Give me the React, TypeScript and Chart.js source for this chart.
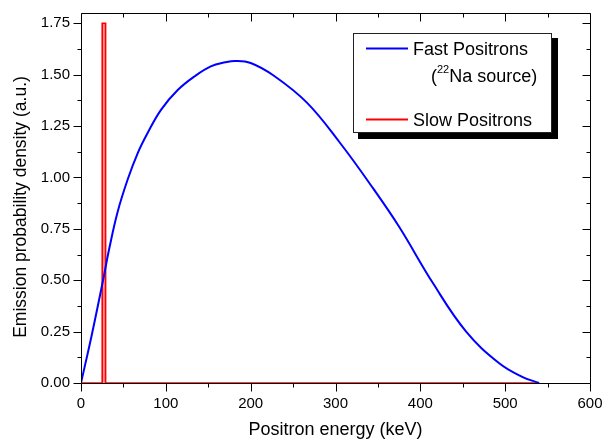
import React, { useEffect, useRef } from 'react';
import { Chart, registerables } from 'chart.js';

Chart.register(...registerables);

// ---- data ----
const fastEnergy = [0, 13, 26, 33, 43, 55, 67, 79, 94.5, 114, 134, 153, 170, 182, 200, 227, 266, 305, 345, 375, 415, 454, 493, 520, 540];
const fastDensity = [0, 0.24, 0.5, 0.648, 0.83, 0.99, 1.12, 1.22, 1.33, 1.425, 1.492, 1.54, 1.56, 1.567, 1.557, 1.496, 1.365, 1.17, 0.943, 0.76, 0.485, 0.25, 0.096, 0.03, 0];
const slowEnergy = [0, 25, 25, 29, 29, 540];
const slowDensity = [0, 0, 1.75, 1.75, 0, 0];
const xTicks = [0, 100, 200, 300, 400, 500, 600];
const yTicks = [0, 0.25, 0.5, 0.75, 1.0, 1.25, 1.5, 1.75];
const seriesLabels = ['Fast Positrons', 'Slow Positrons'];
const sourceNote = ['(', '22', 'Na source)'];
const xTitle = 'Positron energy (keV)';
const yTitle = 'Emission probability density (a.u.)';

const FONT = '"Liberation Sans", Arial, Helvetica, sans-serif';

const framePlugin = {
  id: 'frameTicks',
  afterDatasetsDraw(chart: any) {
    const { ctx, chartArea: a, scales } = chart;
    const xs = scales.x;
    const ys = scales.y;
    const L = Math.round(a.left) + 0.5;
    const R = Math.round(a.right) + 0.5;
    const T = Math.round(a.top) + 0.5;
    const B = Math.round(a.bottom) + 0.5;
    ctx.save();
    ctx.strokeStyle = '#000';
    ctx.lineWidth = 1;
    ctx.beginPath();
    ctx.rect(L, T, R - L, B - T);
    const major = 8;
    const minor = 4;
    for (let i = 0; i < xTicks.length; i++) {
      const v = xTicks[i];
      const px = Math.round(xs.getPixelForValue(v)) + 0.5;
      ctx.moveTo(px, B); ctx.lineTo(px, B + major);
      ctx.moveTo(px, T); ctx.lineTo(px, T + major);
      if (i < xTicks.length - 1) {
        const mv = (v + xTicks[i + 1]) / 2;
        const mp = Math.round(xs.getPixelForValue(mv)) + 0.5;
        ctx.moveTo(mp, B); ctx.lineTo(mp, B + minor);
        ctx.moveTo(mp, T); ctx.lineTo(mp, T + minor);
      }
    }
    for (let i = 0; i < yTicks.length; i++) {
      const v = yTicks[i];
      const py = Math.round(ys.getPixelForValue(v)) + 0.5;
      ctx.moveTo(L, py); ctx.lineTo(L - major, py);
      ctx.moveTo(R, py); ctx.lineTo(R - major, py);
      if (i < yTicks.length - 1) {
        const mv = (v + yTicks[i + 1]) / 2;
        const mp = Math.round(ys.getPixelForValue(mv)) + 0.5;
        ctx.moveTo(L, mp); ctx.lineTo(L - minor, mp);
        ctx.moveTo(R, mp); ctx.lineTo(R - minor, mp);
      }
    }
    ctx.stroke();
    ctx.restore();
  },
  afterDraw(chart: any) {
    const { ctx } = chart;
    const ds = chart.data.datasets;
    ctx.save();

    // y axis title
    ctx.save();
    ctx.translate(21, 207);
    ctx.rotate(-Math.PI / 2);
    ctx.fillStyle = '#000';
    ctx.font = `17.5px ${FONT}`;
    ctx.textAlign = 'center';
    ctx.textBaseline = 'middle';
    ctx.fillText(yTitle, 0, 0);
    ctx.restore();

    // legend box with shadow
    const bx = 353, by = 33, bw = 199, bh = 100;
    ctx.fillStyle = '#000';
    ctx.fillRect(bx + 5, by + 5, bw + 1, bh + 1);
    ctx.fillStyle = '#fff';
    ctx.fillRect(bx, by, bw, bh);
    ctx.strokeStyle = '#222';
    ctx.lineWidth = 1;
    ctx.strokeRect(bx + 0.5, by + 0.5, bw - 1, bh - 1);

    // sample lines
    ctx.lineWidth = 2;
    ctx.strokeStyle = ds[0].borderColor;
    ctx.beginPath(); ctx.moveTo(366, 48.5); ctx.lineTo(408, 48.5); ctx.stroke();
    ctx.strokeStyle = ds[1].borderColor;
    ctx.beginPath(); ctx.moveTo(366, 119.5); ctx.lineTo(408, 119.5); ctx.stroke();

    ctx.fillStyle = '#000';
    ctx.textBaseline = 'alphabetic';
    ctx.textAlign = 'left';
    ctx.font = `18px ${FONT}`;
    ctx.fillText(ds[0].label, 413, 54.5);
    ctx.fillText(ds[1].label, 413, 125.5);
    // (22Na source)
    let x = 431;
    ctx.fillText(sourceNote[0], x, 81.5);
    x += ctx.measureText(sourceNote[0]).width;
    ctx.font = `11px ${FONT}`;
    ctx.fillText(sourceNote[1], x, 73);
    x += ctx.measureText(sourceNote[1]).width;
    ctx.font = `18px ${FONT}`;
    ctx.fillText(sourceNote[2], x, 81.5);
    ctx.restore();
  },
};

export default function App() {
  const ref = useRef<HTMLCanvasElement>(null);
  useEffect(() => {
    document.body.style.margin = '0';
    document.body.style.background = '#fff';
    const canvas = ref.current;
    if (!canvas) return;
    const chart = new Chart(canvas, {
      type: 'line',
      data: {
        datasets: [
          {
            label: seriesLabels[0],
            data: fastEnergy.map((e, i) => ({ x: e, y: fastDensity[i] })),
            borderColor: '#0000ff',
            backgroundColor: '#0000ff',
            borderWidth: 2,
            pointRadius: 0,
            tension: 0.4,
            fill: false,
          },
          {
            label: seriesLabels[1],
            data: slowEnergy.map((e, i) => ({ x: e, y: slowDensity[i] })),
            borderColor: '#ff0000',
            backgroundColor: 'rgba(255,110,110,0.75)',
            borderWidth: 1.6,
            pointRadius: 0,
            tension: 0,
            fill: 'origin',
          },
        ],
      },
      options: {
        responsive: false,
        animation: false,
        layout: { padding: { left: 0, top: 13, right: 12, bottom: 0 } },
        plugins: { legend: { display: false }, tooltip: { enabled: false } },
        scales: {
          x: {
            type: 'linear',
            position: 'bottom',
            min: 0,
            max: 600,
            afterFit: (s: any) => { s.height = 58; s.paddingLeft = 0; s.paddingRight = 0; },
            afterBuildTicks: (s: any) => { s.ticks = xTicks.map((v) => ({ value: v })); },
            grid: { display: false, drawTicks: false },
            border: { display: false },
            ticks: {
              font: { family: FONT, size: 15 },
              color: '#000',
              padding: 12,
              maxRotation: 0,
              autoSkip: false,
              callback: (v: any) => String(v),
            },
            title: {
              display: true,
              text: xTitle,
              font: { family: FONT, size: 18 },
              color: '#000',
              padding: { top: 0, bottom: 0 },
            },
          },
          y: {
            type: 'linear',
            position: 'left',
            min: 0,
            max: 1.8,
            afterFit: (s: any) => { s.width = 81; s.paddingTop = 0; s.paddingBottom = 0; },
            afterBuildTicks: (s: any) => { s.ticks = yTicks.map((v) => ({ value: v })); },
            grid: { display: false, drawTicks: false },
            border: { display: false },
            ticks: {
              font: { family: FONT, size: 15 },
              color: '#000',
              padding: 11,
              autoSkip: false,
              callback: (v: any) => Number(v).toFixed(2),
            },
            title: { display: false },
          },
        },
      },
      plugins: [framePlugin],
    } as any);
    return () => chart.destroy();
  }, []);
  return (
    <div style={{ width: 602, height: 441, background: '#fff' }}>
      <canvas ref={ref} width={602} height={441} style={{ display: 'block' }} />
    </div>
  );
}
